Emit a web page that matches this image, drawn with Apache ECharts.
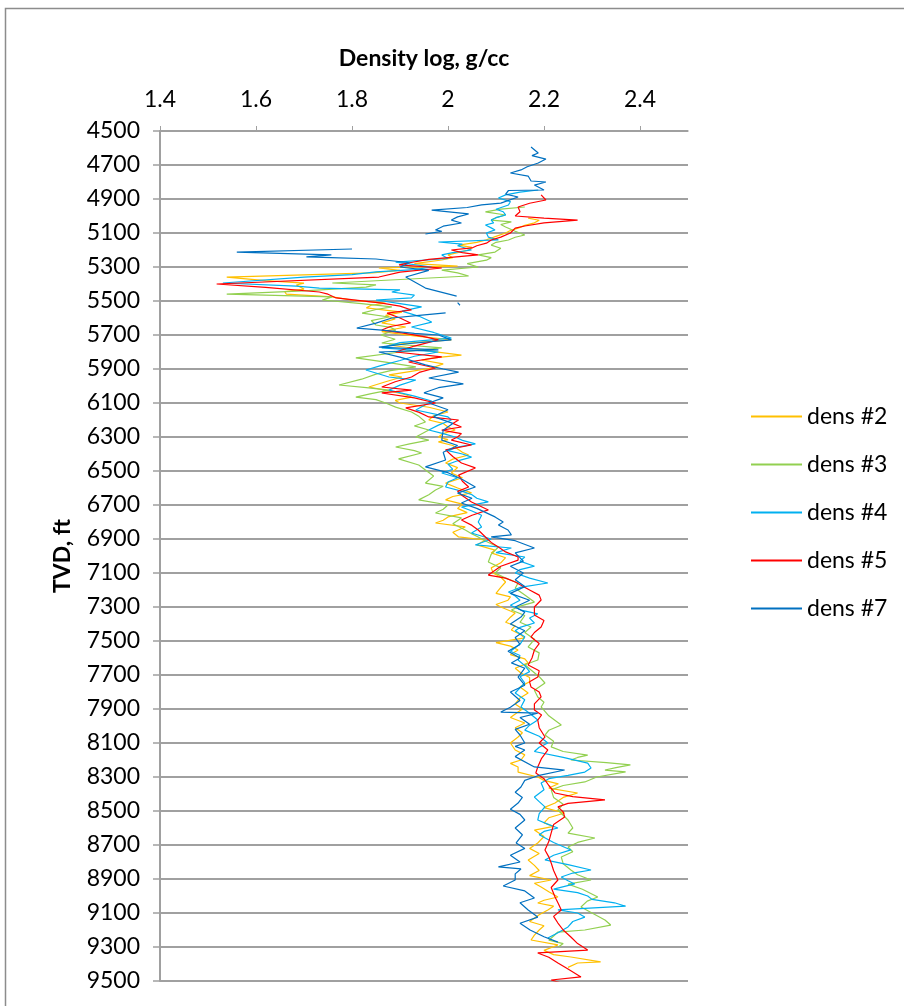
<!DOCTYPE html>
<html><head><meta charset="utf-8">
<script src="https://cdn.jsdelivr.net/npm/echarts@6/dist/echarts.min.js"></script>
<style>html,body{margin:0;padding:0;background:#fff}#c{width:904px;height:1006px}</style>
</head><body><div id="c"></div>
<script>
// Depth-log data: [density g/cc, TVD ft]; null = gap in log
const seriesNames = ['dens #2', 'dens #3', 'dens #4', 'dens #5', 'dens #7'];
const xTicks = [1.4, 1.6, 1.8, 2.0, 2.2, 2.4];

const dens2 = [[2.167,5012],[2.19,5025],[2.18,5040],[2.16,5055],[2.146,5071],[2.13,5085],[2.12,5100],[2.10,5120],[2.08,5140],[2.06,5155],[2.022,5171],[2.05,5185],[2.043,5200],[2.02,5215],[2.0,5229],[2.01,5245],[1.987,5259],[1.93,5280],[2.02,5295],[1.856,5306],[1.90,5320],[1.842,5335],[1.539,5359],[1.62,5380],[1.70,5395],[1.684,5406],[1.70,5430],[1.66,5445],[1.663,5459],[1.759,5476],[1.80,5495],[1.87,5512],[1.84,5525],[1.83,5540],[1.904,5565],[1.87,5585],[1.89,5605],[1.862,5629],[1.912,5653],[1.862,5680],[1.93,5705],[2.007,5729],[1.93,5745],[1.877,5759],[1.92,5775],[1.95,5790],[2.028,5818],[1.97,5835],[1.945,5847],[1.99,5870],[1.966,5894],[1.92,5915],[1.877,5935],[1.904,5947],[1.87,5975],[1.835,6006],[1.88,6030],[1.91,6050],[1.924,6065],[1.89,6085],[1.90,6100],[1.96,6125],[2.0,6153],[1.97,6175],[1.96,6200],[1.99,6220],[2.0,6241],[2.015,6259],[1.99,6280],[1.98,6300],[2.0,6315],[1.98,6329],[2.01,6350],[2.02,6370],[2.03,6390],[2.043,6406],[2.01,6430],[1.995,6453],[2.02,6480],[2.007,6512],[2.03,6540],[1.995,6571],[2.02,6600],[2.049,6629],[2.01,6650],[1.995,6670],[2.03,6695],[2.02,6720],[2.04,6745],[2.00,6770],[1.99,6790],[1.974,6806],[2.036,6829],[2.01,6860],[2.022,6888],[2.078,6906],[2.06,6935],[2.098,6965],[2.09,6982],[2.12,7010],[2.11,7040],[2.09,7070],[2.094,7100],[2.11,7125],[2.12,7153],[2.11,7185],[2.10,7220],[2.13,7240],[2.125,7260],[2.10,7285],[2.115,7306],[2.14,7335],[2.13,7360],[2.12,7390],[2.14,7410],[2.132,7435],[2.15,7460],[2.16,7482],[2.10,7510],[2.13,7530],[2.146,7553],[2.13,7580],[2.16,7605],[2.167,7629],[2.14,7660],[2.152,7688],[2.17,7715],[2.17,7740],[2.15,7770],[2.167,7806],[2.15,7835],[2.14,7870],[2.155,7900],[2.146,7918],[2.13,7950],[2.16,7982],[2.14,8010],[2.155,8040],[2.146,8065],[2.13,8100],[2.14,8141],[2.16,8170],[2.152,8200],[2.13,8220],[2.146,8241],[2.146,8271],[2.187,8300],[2.20,8320],[2.23,8340],[2.21,8365],[2.27,8394],[2.24,8420],[2.223,8453],[2.20,8480],[2.243,8512],[2.21,8540],[2.20,8570],[2.22,8590],[2.18,8612],[2.20,8650],[2.187,8688],[2.17,8720],[2.19,8750],[2.167,8788],[2.18,8820],[2.19,8850],[2.17,8880],[2.215,8906],[2.18,8925],[2.194,8947],[2.21,8975],[2.229,9006],[2.20,9025],[2.187,9041],[2.22,9060],[2.208,9082],[2.19,9110],[2.17,9150],[2.20,9175],[2.19,9200],[2.18,9230],[2.173,9259],[2.229,9288],[2.20,9320],[2.22,9345],[2.256,9359],[2.318,9388],[2.27,9394],[2.25,9420]];

const dens3 = [[2.16,4947],[2.11,4960],[2.078,4976],[2.12,4994],[2.10,5010],[2.09,5024],[2.132,5035],[2.11,5050],[2.12,5065],[2.14,5090],[2.16,5112],[2.14,5125],[2.126,5141],[2.10,5155],[2.09,5171],[2.11,5190],[2.098,5212],[2.063,5229],[2.09,5245],[2.08,5260],[2.04,5280],[2.063,5300],[1.987,5318],[2.02,5335],[2.043,5353],[1.759,5394],[1.85,5405],[1.829,5418],[1.70,5440],[1.539,5459],[1.759,5476],[1.738,5494],[1.82,5515],[1.883,5535],[1.85,5550],[1.821,5571],[1.877,5594],[1.84,5615],[1.85,5641],[1.88,5655],[1.891,5671],[1.86,5700],[1.89,5725],[1.862,5747],[1.987,5776],[1.90,5800],[1.808,5835],[1.87,5860],[1.933,5888],[1.88,5910],[1.85,5930],[1.82,5960],[1.773,5994],[1.83,6010],[1.877,6024],[1.84,6045],[1.808,6065],[1.85,6080],[1.87,6100],[1.891,6124],[1.924,6153],[1.94,6180],[1.953,6212],[1.93,6235],[1.96,6259],[1.933,6300],[1.96,6318],[1.92,6340],[1.891,6359],[1.93,6380],[1.945,6394],[1.897,6429],[1.939,6465],[1.953,6494],[1.97,6530],[1.953,6571],[1.99,6590],[1.974,6612],[1.96,6640],[1.939,6670],[2.0,6700],[1.99,6725],[1.974,6747],[2.028,6776],[2.01,6810],[2.036,6847],[2.05,6870],[2.063,6888],[2.08,6915],[2.105,6947],[2.09,6990],[2.084,7035],[2.11,7070],[2.098,7100],[2.12,7130],[2.146,7159],[2.14,7190],[2.16,7230],[2.18,7271],[2.15,7295],[2.132,7318],[2.16,7350],[2.15,7390],[2.173,7418],[2.16,7450],[2.18,7490],[2.167,7535],[2.19,7570],[2.187,7612],[2.16,7640],[2.173,7671],[2.19,7710],[2.202,7747],[2.18,7790],[2.187,7829],[2.20,7860],[2.194,7888],[2.21,7940],[2.236,7994],[2.21,8025],[2.202,8053],[2.22,8090],[2.215,8123],[2.24,8150],[2.291,8171],[2.27,8185],[2.256,8200],[2.33,8215],[2.38,8229],[2.35,8245],[2.327,8259],[2.37,8270],[2.31,8300],[2.285,8329],[2.24,8350],[2.215,8376],[2.22,8420],[2.24,8460],[2.229,8494],[2.24,8525],[2.25,8553],[2.26,8600],[2.25,8630],[2.306,8659],[2.27,8685],[2.25,8712],[2.26,8740],[2.236,8771],[2.24,8810],[2.256,8847],[2.27,8875],[2.298,8906],[2.25,8930],[2.28,8960],[2.312,9006],[2.29,9030],[2.277,9065],[2.30,9100],[2.327,9141],[2.339,9171],[2.285,9200],[2.229,9212],[2.22,9235],[2.21,9260],[2.24,9280],[2.23,9300]];

const dens4 = [[2.188,4847],[2.15,4860],[2.12,4876],[2.105,4894],[2.13,4915],[2.126,4935],[2.10,4960],[2.115,4975],[2.12,4994],[2.10,5010],[2.09,5024],[2.095,5040],[2.078,5053],[2.09,5070],[2.098,5082],[2.08,5100],[2.084,5124],[2.105,5141],[1.98,5153],[2.03,5165],[2.02,5175],[2.049,5200],[2.01,5215],[1.987,5229],[2.00,5250],[1.891,5271],[1.966,5300],[1.93,5315],[1.85,5329],[1.80,5345],[1.70,5360],[1.531,5394],[1.684,5412],[1.732,5424],[1.90,5435],[1.883,5447],[1.93,5465],[1.924,5482],[1.85,5494],[1.90,5515],[1.945,5535],[1.904,5560],[1.94,5590],[1.966,5624],[1.924,5653],[1.97,5685],[2.007,5718],[1.90,5745],[1.862,5776],[1.98,5800],[1.93,5825],[1.90,5850],[1.86,5880],[1.829,5906],[1.877,5947],[1.933,5965],[1.90,5995],[1.877,6024],[1.93,6060],[1.966,6088],[1.95,6115],[1.933,6141],[2.0,6182],[2.007,6200],[1.98,6230],[1.96,6259],[1.99,6280],[2.015,6300],[2.03,6320],[2.057,6340],[2.02,6360],[2.00,6380],[2.03,6400],[2.049,6418],[2.02,6440],[2.00,6460],[2.01,6490],[1.987,6512],[2.02,6540],[2.00,6565],[1.995,6594],[2.03,6620],[2.05,6640],[2.06,6660],[2.084,6682],[2.028,6712],[2.05,6735],[2.07,6760],[2.063,6800],[2.07,6830],[2.049,6865],[2.09,6900],[2.057,6935],[2.132,6953],[2.10,6980],[2.16,7006],[2.15,7030],[2.18,7060],[2.15,7080],[2.14,7100],[2.17,7130],[2.208,7159],[2.15,7185],[2.126,7212],[2.14,7235],[2.15,7260],[2.13,7290],[2.152,7318],[2.187,7340],[2.17,7365],[2.18,7394],[2.15,7420],[2.14,7440],[2.16,7475],[2.152,7512],[2.14,7540],[2.13,7560],[2.15,7585],[2.146,7612],[2.16,7645],[2.17,7680],[2.15,7710],[2.16,7747],[2.15,7775],[2.14,7806],[2.16,7845],[2.152,7888],[2.17,7925],[2.187,7965],[2.17,7995],[2.16,8024],[2.19,8060],[2.208,8100],[2.19,8125],[2.18,8150],[2.24,8185],[2.291,8218],[2.298,8247],[2.285,8271],[2.25,8290],[2.21,8310],[2.194,8335],[2.20,8375],[2.18,8418],[2.19,8445],[2.202,8476],[2.19,8515],[2.187,8553],[2.21,8580],[2.229,8600],[2.20,8620],[2.19,8640],[2.22,8685],[2.256,8729],[2.22,8760],[2.202,8788],[2.25,8815],[2.298,8847],[2.26,8865],[2.236,8888],[2.25,8910],[2.264,8929],[2.22,8960],[2.27,8980],[2.291,9000],[2.30,9020],[2.347,9040],[2.37,9060],[2.229,9082],[2.27,9100],[2.285,9124],[2.26,9150],[2.25,9182],[2.23,9215],[2.208,9247]];

const dens5 = [[2.194,4876],[2.204,4906],[2.17,4925],[2.146,4947],[2.15,4975],[2.14,5000],[2.20,5012],[2.27,5024],[2.20,5040],[2.16,5059],[2.14,5071],[2.13,5100],[2.11,5124],[2.09,5141],[2.08,5160],[2.06,5175],[2.05,5188],[2.007,5200],[2.03,5215],[2.063,5229],[1.96,5255],[1.92,5275],[1.898,5288],[1.987,5306],[1.90,5330],[1.856,5359],[1.518,5400],[1.62,5420],[1.732,5447],[1.75,5460],[1.767,5482],[1.862,5512],[1.90,5530],[1.924,5553],[1.873,5571],[1.90,5600],[1.922,5629],[1.88,5650],[1.862,5671],[1.904,5688],[1.95,5710],[1.98,5729],[1.93,5765],[1.891,5800],[1.987,5829],[1.918,5859],[1.974,5894],[1.94,5920],[1.924,5947],[1.89,5975],[1.862,6006],[1.924,6024],[1.862,6041],[1.93,6070],[1.974,6100],[1.912,6129],[1.94,6155],[1.96,6182],[2.022,6200],[2.01,6220],[2.028,6241],[1.987,6260],[2.028,6280],[2.02,6300],[2.007,6318],[2.049,6347],[1.995,6376],[2.01,6415],[2.028,6453],[2.057,6482],[2.022,6524],[2.03,6560],[2.043,6594],[2.02,6620],[2.028,6641],[2.049,6682],[2.084,6729],[2.05,6760],[2.028,6788],[2.05,6820],[2.063,6847],[2.078,6888],[2.09,6920],[2.105,6947],[2.12,6976],[2.146,7006],[2.146,7024],[2.11,7060],[2.084,7112],[2.12,7130],[2.14,7153],[2.17,7200],[2.19,7230],[2.194,7259],[2.18,7300],[2.18,7347],[2.20,7380],[2.194,7418],[2.18,7450],[2.173,7476],[2.19,7515],[2.18,7553],[2.175,7600],[2.167,7641],[2.19,7675],[2.187,7712],[2.17,7740],[2.173,7771],[2.19,7800],[2.194,7829],[2.18,7870],[2.18,7906],[2.195,7935],[2.187,7965],[2.19,8010],[2.202,8065],[2.19,8100],[2.208,8141],[2.195,8190],[2.187,8241],[2.183,8276],[2.20,8310],[2.21,8350],[2.223,8394],[2.26,8415],[2.327,8435],[2.25,8455],[2.229,8476],[2.24,8505],[2.243,8535],[2.22,8580],[2.215,8629],[2.21,8680],[2.202,8729],[2.21,8770],[2.215,8806],[2.22,8850],[2.229,8906],[2.215,8950],[2.223,9006],[2.23,9045],[2.236,9082],[2.22,9120],[2.229,9159],[2.24,9200],[2.256,9241],[2.27,9280],[2.291,9318],[2.187,9335],[2.21,9360],[2.229,9394],[2.25,9430],[2.277,9476],[2.215,9494],[2.25,9524]];

const dens7 = [[2.173,4594],[2.188,4629],[2.175,4645],[2.204,4665],[2.188,4688],[2.165,4710],[2.152,4729],[2.13,4747],[2.167,4765],[2.173,4794],[2.204,4800],[2.18,4818],[2.2,4847],[2.126,4850],[2.12,4871],[2.146,4888],[2.11,4924],[2.07,4935],[2.04,4950],[1.966,4965],[2.043,4988],[2.02,5005],[2.007,5024],[2.028,5041],[1.99,5060],[1.974,5082],[1.987,5090],[1.953,5106],null,[1.8,5194],[1.56,5212],[1.757,5229],[1.705,5241],[1.757,5245],[1.85,5253],[1.92,5275],[1.9,5300],[1.96,5320],[1.912,5359],[1.953,5424],[2.018,5471],null,[2.02,5510],[2.025,5525],null,[1.995,5570],[1.94,5585],[1.883,5600],[1.85,5630],[1.81,5659],[1.862,5671],[1.93,5690],[1.98,5700],[2.007,5729],[1.92,5750],[1.856,5771],[1.98,5788],[1.856,5800],[1.9,5830],[1.953,5876],[1.99,5900],[2.022,5918],[1.96,5953],[2.032,5988],[1.98,6010],[1.95,6040],[1.99,6070],[1.96,6100],[2.0,6140],[1.97,6180],[2.01,6220],[1.99,6260],[1.987,6318],[2.02,6350],[1.99,6390],[1.995,6435],[1.953,6476],[2.0,6510],[2.03,6550],[2.057,6594],[2.02,6630],[2.05,6660],[2.028,6688],[2.06,6720],[2.098,6770],[2.115,6800],[2.105,6818],[2.125,6847],[2.132,6876],[2.09,6888],[2.14,6910],[2.18,6953],[2.14,6982],[2.157,7030],[2.13,7060],[2.157,7100],[2.14,7140],[2.16,7180],[2.13,7220],[2.17,7260],[2.14,7300],[2.16,7330],[2.152,7359],[2.13,7400],[2.16,7440],[2.14,7480],[2.15,7520],[2.125,7560],[2.15,7600],[2.132,7629],[2.16,7660],[2.146,7712],[2.16,7760],[2.13,7800],[2.15,7850],[2.13,7890],[2.11,7918],[2.187,7924],[2.15,7950],[2.17,7990],[2.14,8020],[2.15,8053],[2.16,8100],[2.14,8120],[2.16,8141],[2.14,8180],[2.18,8241],[2.243,8259],[2.19,8290],[2.16,8320],[2.152,8359],[2.14,8390],[2.155,8420],[2.146,8453],[2.13,8490],[2.15,8520],[2.16,8553],[2.14,8600],[2.155,8640],[2.142,8688],[2.16,8720],[2.13,8760],[2.15,8800],[2.105,8829],[2.152,8841],[2.14,8870],[2.14,8906],[2.115,8941],[2.16,8970],[2.18,9012],[2.15,9040],[2.167,9082],[2.187,9124],[2.15,9160],[2.171,9200],[2.2,9240],[2.229,9271]];

const seriesData = [dens2, dens3, dens4, dens5, dens7];
const colors = ['#FFC000', '#92D050', '#00B0F0', '#FF0000', '#0070C0'];

const chart = echarts.init(document.getElementById('c'), null, {renderer: 'canvas'});
const font = 'Lato, "Open Sans", sans-serif';
const fs = 23;
chart.setOption({
  animation: false,
  backgroundColor: '#fff',
  graphic: [{type: 'rect', shape: {x: 5.5, y: 8.5, width: 910, height: 1010}, style: {fill: 'none', stroke: '#8c8c8c', lineWidth: 1.5}, silent: true}],
  grid: {left: 160, right: 216, top: 131, bottom: 25, containLabel: false},
  legend: {
    orient: 'vertical', left: 746, top: 400, itemGap: 25,
    itemWidth: 51, itemHeight: 2, icon: 'rect',
    textStyle: {fontFamily: font, fontSize: fs, color: '#000', lineHeight: 23},
    data: seriesNames
  },
  xAxis: {
    type: 'value', position: 'top', min: 1.4, max: 2.5, interval: 0.2,
    name: 'Density log, g/cc', nameLocation: 'middle', nameGap: 61,
    nameTextStyle: {fontFamily: font, fontSize: fs, fontWeight: 'bold', color: '#000'},
    axisLine: {show: true, lineStyle: {color: '#a0a0a0', width: 1.5}},
    axisTick: {show: true, length: 5, lineStyle: {color: '#a0a0a0'}, customValues: xTicks},
    axisLabel: {fontFamily: font, fontSize: fs, color: '#000', margin: 20, customValues: xTicks,
      formatter: v => String(Math.round(v * 10) / 10)},
    splitLine: {show: false}
  },
  yAxis: {
    type: 'value', inverse: true, min: 4500, max: 9500, interval: 200,
    name: 'TVD, ft', nameLocation: 'middle', nameGap: 86,
    nameTextStyle: {fontFamily: font, fontSize: fs, fontWeight: 'bold', color: '#000'},
    axisLine: {show: true, lineStyle: {color: '#a0a0a0', width: 2}},
    axisTick: {show: true, length: 7, lineStyle: {color: '#a0a0a0', width: 1.5}},
    axisLabel: {fontFamily: font, fontSize: fs, color: '#000', margin: 20, formatter: v => String(v)},
    splitLine: {show: true, lineStyle: {color: '#a0a0a0', width: 2}}
  },
  series: seriesNames.map((n, i) => ({
    name: n, type: 'line', showSymbol: false, symbol: 'none',
    color: colors[i],
    lineStyle: {width: 1.2, color: colors[i]},
    data: seriesData[i].map(p => p === null ? ['-', '-'] : p)
  }))
});
</script>
</body></html>
